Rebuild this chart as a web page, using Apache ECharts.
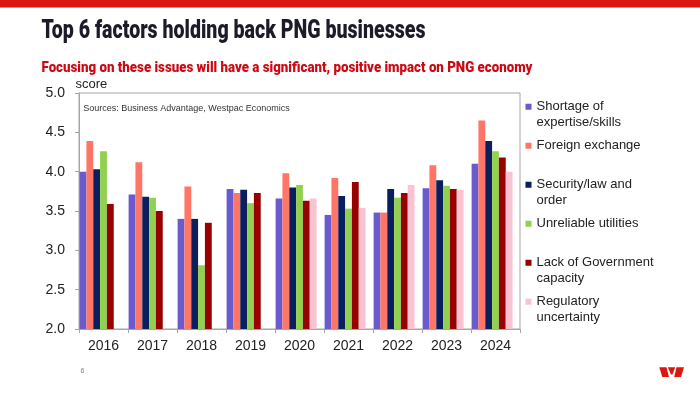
<!DOCTYPE html>
<html>
<head>
<meta charset="utf-8">
<script src="https://cdn.jsdelivr.net/npm/echarts@6/dist/echarts.min.js"></script>
<style>
  html, body { margin: 0; padding: 0; background: #fff; }
  #chart { width: 700px; height: 393px; }
</style>
</head>
<body>
<div id="chart"></div>
<script>
// ---- data ----
const years = ['2016', '2017', '2018', '2019', '2020', '2021', '2022', '2023', '2024'];
const seriesNames = [
  'Shortage of expertise/skills',
  'Foreign exchange',
  'Security/law and order',
  'Unreliable utilities',
  'Lack of Government capacity',
  'Regulatory uncertainty'
];
const legendLabels = [
  'Shortage of\nexpertise/skills',
  'Foreign exchange\n ',
  'Security/law and\norder',
  'Unreliable utilities\n ',
  'Lack of Government\ncapacity',
  'Regulatory\nuncertainty'
];
const shortageSkills   = [4.00, 3.71, 3.40, 3.78, 3.66, 3.45, 3.48, 3.79, 4.10];
const foreignExchange  = [4.39, 4.12, 3.81, 3.73, 3.98, 3.92, 3.48, 4.08, 4.65];
const securityLaw      = [4.03, 3.68, 3.40, 3.77, 3.80, 3.69, 3.78, 3.89, 4.39];
const utilities        = [4.26, 3.67, 2.81, 3.60, 3.83, 3.53, 3.67, 3.82, 4.26];
const governmentCap    = [3.59, 3.50, 3.35, 3.73, 3.63, 3.87, 3.73, 3.78, 4.18];
const regulatory       = [null, null, null, null, 3.66, 3.54, 3.83, 3.77, 4.00];
const yTicks = [2.0, 2.5, 3.0, 3.5, 4.0, 4.5, 5.0];

const titleText = 'Top 6 factors holding back PNG businesses';
const subtitleText = 'Focusing on these issues will have a significant, positive impact on PNG economy';
const sourceText = 'Sources: Business Advantage, Westpac Economics';

// ---- styling ----
const colors = ['#6a5acd', '#ff7566', '#0b1f5e', '#92d050', '#990000', '#fbc3d2'];
const allValues = [shortageSkills, foreignExchange, securityLaw, utilities, governmentCap, regulatory];
const axisGray = '#a6a6a6';
const baseFont = '"Liberation Sans", Arial, sans-serif';

function scaleFor(text, font, target) {
  const ctx = document.createElement('canvas').getContext('2d');
  ctx.font = font;
  return target / ctx.measureText(text).width;
}
const titleFont = '900 25px Roboto';
const subFont = '900 14px Roboto';
const titleScale = scaleFor(titleText, titleFont, 384);
const subScale = scaleFor(subtitleText, subFont, 491);

const series = allValues.map((vals, i) => ({
  name: seriesNames[i],
  type: 'bar',
  data: vals,
  itemStyle: { color: colors[i] },
  barGap: '0%',
  barCategoryGap: '2.5%'
}));
// empty 7th slot (the original chart leaves space for one more bar per year)
series.push({ name: '_spacer', type: 'bar', data: years.map(() => null), barGap: '0%', barCategoryGap: '2.5%' });

const chart = echarts.init(document.getElementById('chart'), null, { renderer: 'canvas' });
chart.setOption({
  animation: false,
  textStyle: { fontFamily: baseFont },
  grid: {
    left: 79, top: 93, width: 441, height: 236,
    show: true, borderColor: axisGray, borderWidth: 1, backgroundColor: 'transparent'
  },
  legend: {
    data: seriesNames,
    orient: 'vertical',
    left: 525.5, top: 98.5,
    padding: 0,
    itemWidth: 6, itemHeight: 32, itemGap: 7,
    icon: 'path://M0,0h0.01M0,5.2h6v6h-6zM0,32h0.01',
    selectedMode: false,
    formatter: name => legendLabels[seriesNames.indexOf(name)],
    textStyle: { fontSize: 13, lineHeight: 15.6, color: '#222', fontFamily: baseFont }
  },
  xAxis: {
    type: 'category',
    data: years,
    axisLine: { lineStyle: { color: axisGray, width: 1 } },
    axisTick: { show: true, length: 4, lineStyle: { color: axisGray } },
    axisLabel: { fontSize: 14, color: '#222', margin: 10, fontFamily: baseFont }
  },
  yAxis: {
    type: 'value',
    min: yTicks[0], max: yTicks[yTicks.length - 1], interval: 0.5,
    axisLine: { show: true, lineStyle: { color: axisGray, width: 1 } },
    axisTick: { show: true, length: 4, lineStyle: { color: axisGray } },
    splitLine: { show: false },
    axisLabel: { fontSize: 14, color: '#222', margin: 14, fontFamily: baseFont, formatter: v => v.toFixed(1) }
  },
  graphic: [
    { type: 'rect', shape: { x: 0, y: 0, width: 700, height: 7.5 }, style: { fill: '#da1710' }, silent: true },
    { type: 'text', x: 41.5, y: 32, scaleX: titleScale, style: { text: titleText, font: titleFont, fill: '#1b1b2a', textAlign: 'left', textVerticalAlign: 'middle' } },
    { type: 'text', x: 41.5, y: 68, scaleX: subScale, style: { text: subtitleText, font: subFont, fill: '#cc0a14', textAlign: 'left', textVerticalAlign: 'middle' } },
    { type: 'text', x: 75.5, y: 84.5, style: { text: 'score', font: '13px ' + baseFont, fill: '#222', textAlign: 'left', textVerticalAlign: 'middle' } },
    { type: 'text', x: 83.3, y: 108.3, style: { text: sourceText, font: '9px ' + baseFont, fill: '#333', textAlign: 'left', textVerticalAlign: 'middle' } },
    { type: 'text', x: 80.5, y: 371, style: { text: '6', font: '7px ' + baseFont, fill: '#808080', textAlign: 'left', textVerticalAlign: 'middle' } },
    { type: 'polygon', shape: { points: [[659.3, 367.3], [666.5, 367.3], [669, 377], [662.3, 377]] }, style: { fill: '#da1710' } },
    { type: 'polygon', shape: { points: [[667.8, 367.3], [675.2, 367.3], [672.5, 374.5], [671, 374.5]] }, style: { fill: '#da1710' } },
    { type: 'polygon', shape: { points: [[676.5, 367.3], [684, 367.3], [681, 377], [674.2, 377]] }, style: { fill: '#da1710' } }
  ],
  series: series
});
</script>
</body>
</html>
